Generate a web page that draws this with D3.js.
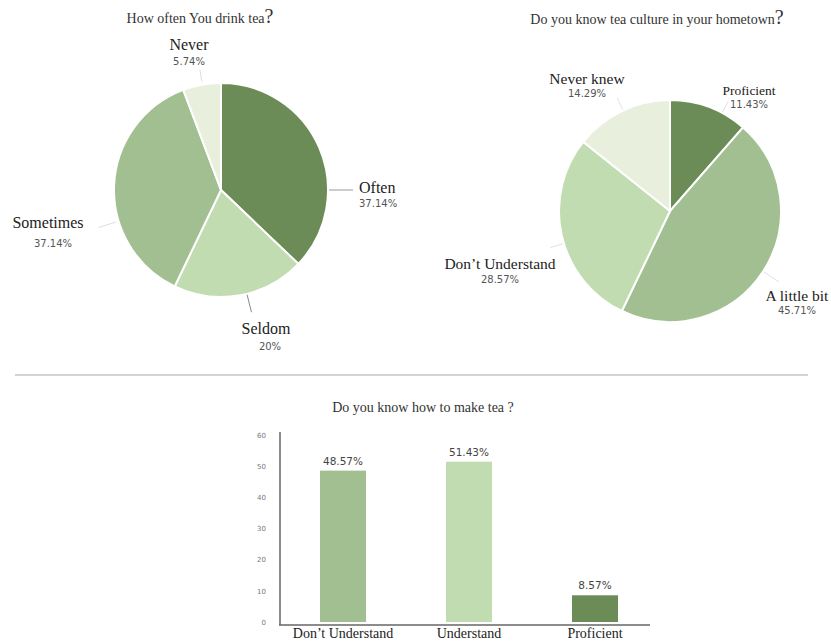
<!DOCTYPE html>
<html lang="en">
<head>
<meta charset="UTF-8">
<script src="https://d3js.org/d3.v7.min.js"></script>
<style>
  body { margin: 0; background: #fff; }
  #plot { position: absolute; width: 831px; height: 644px; }
</style>
</head>
<body>
<div id="plot"></div>
<script>
// --- data ---
const drinkLabels = ["Often", "Seldom", "Sometimes", "Never"];
const drinkValues = [37.14, 20, 37.14, 5.74];
const drinkText = ["37.14%", "20%", "37.14%", "5.74%"];

const cultureLabels = ["Proficient", "A little bit", "Don\u2019t Understand", "Never knew"];
const cultureValues = [11.43, 45.71, 28.57, 14.29];
const cultureText = ["11.43%", "45.71%", "28.57%", "14.29%"];

const makeLabels = ["Don\u2019t Understand", "Understand", "Proficient"];
const makeValues = [48.57, 51.43, 8.57];
const makeText = ["48.57%", "51.43%", "8.57%"];
const yTicks = [0, 10, 20, 30, 40, 50, 60];

// --- colours ---
const dark = "#6b8c57", mid = "#a2bf92", light = "#c2dcb2", pale = "#e8f0dd";
const drinkColors = [dark, light, mid, pale];
const cultureColors = [dark, mid, light, pale];
const makeColors = [mid, light, dark];

const serif = "'Liberation Serif', 'Times New Roman', serif";
const sans = "'DejaVu Sans', sans-serif";

const svg = d3.select("#plot").append("svg")
    .attr("width", 831)
    .attr("height", 644);

function polar(deg, r) {
  const a = deg * Math.PI / 180;
  return [r * Math.sin(a), -r * Math.cos(a)];
}

function pieChart(opt) {
  const g = svg.append("g").attr("transform", `translate(${opt.cx}, ${opt.cy})`);
  const pie = d3.pie().sort(null).value(d => d);
  const arc = d3.arc().innerRadius(0).outerRadius(opt.r);
  const arcs = pie(opt.values);

  g.selectAll("path")
    .data(arcs)
    .join("path")
      .attr("d", arc)
      .attr("fill", (d, i) => opt.colors[i])
      .attr("stroke", "#fff")
      .attr("stroke-width", 2);

  // leader lines
  g.selectAll("line.leader")
    .data(opt.leaders)
    .join("line")
      .attr("class", "leader")
      .attr("x1", d => polar(d[0], d[1])[0])
      .attr("y1", d => polar(d[0], d[1])[1])
      .attr("x2", d => polar(d[0], d[2])[0])
      .attr("y2", d => polar(d[0], d[2])[1])
      .attr("stroke", (d, i) => opt.leaderColors[i])
      .attr("stroke-width", 1);

  // labels
  const lab = g.selectAll("g.lab")
    .data(opt.labels)
    .join("g")
      .attr("class", "lab")
      .attr("transform", (d, i) => `translate(${opt.offsets[i][0]}, ${opt.offsets[i][1]})`);

  lab.append("text")
      .attr("text-anchor", (d, i) => opt.anchors[i])
      .attr("font-family", serif)
      .attr("font-size", (d, i) => opt.nameSizes[i])
      .attr("fill", "#222")
      .text(d => d);

  lab.append("text")
      .attr("text-anchor", (d, i) => opt.anchors[i])
      .attr("x", (d, i) => opt.pctShift[i][0])
      .attr("y", (d, i) => opt.pctShift[i][1])
      .attr("font-family", sans)
      .attr("font-size", 10)
      .attr("fill", "#555")
      .text((d, i) => opt.pct[i]);

  // title with a larger question mark
  const t = svg.append("text")
      .attr("x", opt.titleX)
      .attr("y", opt.titleY)
      .attr("text-anchor", "middle")
      .attr("font-family", serif)
      .attr("font-size", 14)
      .attr("fill", "#333");
  t.append("tspan").text(opt.title);
  t.append("tspan").attr("font-size", 20).text("?");
}

pieChart({
  cx: 221, cy: 190, r: 107,
  values: drinkValues, labels: drinkLabels, pct: drinkText, colors: drinkColors,
  offsets: [[138, 3], [45, 144], [-173, 38], [-32, -140]],
  anchors: ["start", "middle", "middle", "middle"],
  pctShift: [[0, 14], [4, 16], [5, 19], [0, 15]],
  nameSizes: [16, 16, 16, 16],
  leaders: [[90, 108, 132], [166, 108, 126], [253, 110, 128], [350, 110, 122]],
  leaderColors: ["#999", "#888", "#ddd", "#ddd"],
  title: "How often You drink tea", titleX: 200, titleY: 23
});

pieChart({
  cx: 670, cy: 211, r: 111,
  values: cultureValues, labels: cultureLabels, pct: cultureText, colors: cultureColors,
  offsets: [[79, -116], [127, 90], [-170, 58], [-83, -127]],
  anchors: ["middle", "middle", "middle", "middle"],
  pctShift: [[0, 13], [0, 13], [0, 14], [0, 13]],
  nameSizes: [13.5, 15.5, 15.5, 15.5],
  leaders: [[28, 112, 124], [123, 112, 130], [253, 112, 125], [335, 112, 125]],
  leaderColors: ["#e2e2e2", "#e2e2e2", "#e2e2e2", "#e2e2e2"],
  title: "Do you know tea culture in your hometown", titleX: 657, titleY: 24
});

// separator
svg.append("line")
    .attr("x1", 15).attr("x2", 808)
    .attr("y1", 375).attr("y2", 375)
    .attr("stroke", "#a8a8a8")
    .attr("stroke-width", 1);

// --- bar chart ---
const x = d3.scaleBand()
    .domain(makeLabels)
    .range([280, 658])
    .paddingInner(0.635)
    .paddingOuter(0.3175);

const y = d3.scaleLinear()
    .domain([0, 60])
    .range([622, 435]);

const bars = svg.append("g");

bars.selectAll("rect")
  .data(makeValues)
  .join("rect")
    .attr("x", (d, i) => x(makeLabels[i]))
    .attr("y", d => y(d))
    .attr("width", x.bandwidth())
    .attr("height", d => y(0) - y(d))
    .attr("fill", (d, i) => makeColors[i]);

bars.selectAll("text.val")
  .data(makeValues)
  .join("text")
    .attr("class", "val")
    .attr("x", (d, i) => x(makeLabels[i]) + x.bandwidth() / 2)
    .attr("y", d => y(d) - 6)
    .attr("text-anchor", "middle")
    .attr("font-family", sans)
    .attr("font-size", 10.5)
    .attr("fill", "#444")
    .text((d, i) => makeText[i]);

// y axis
const yAxis = d3.axisLeft(y).tickValues(yTicks).tickSize(0).tickPadding(14);
svg.append("g")
    .attr("transform", "translate(280, 0)")
    .call(yAxis)
    .call(g => g.select(".domain").remove())
    .call(g => g.selectAll("text")
        .attr("font-family", sans)
        .attr("font-size", 7)
        .attr("fill", "#777"));

svg.append("line")
    .attr("x1", 280).attr("x2", 280)
    .attr("y1", 432).attr("y2", 625)
    .attr("stroke", "#666")
    .attr("stroke-width", 1.5);

// x axis
const xAxis = d3.axisBottom(x).tickSize(0).tickPadding(3);
svg.append("g")
    .attr("transform", "translate(0, 625)")
    .call(xAxis)
    .call(g => g.select(".domain").remove())
    .call(g => g.selectAll("text")
        .attr("font-family", serif)
        .attr("font-size", 14)
        .attr("fill", "#222"));

svg.append("line")
    .attr("x1", 279).attr("x2", 650)
    .attr("y1", 625).attr("y2", 625)
    .attr("stroke", "#666")
    .attr("stroke-width", 1.5);

svg.append("text")
    .attr("x", 423)
    .attr("y", 412)
    .attr("text-anchor", "middle")
    .attr("font-family", serif)
    .attr("font-size", 14)
    .attr("fill", "#333")
    .text("Do you know how to make tea ?");
</script>
</body>
</html>
